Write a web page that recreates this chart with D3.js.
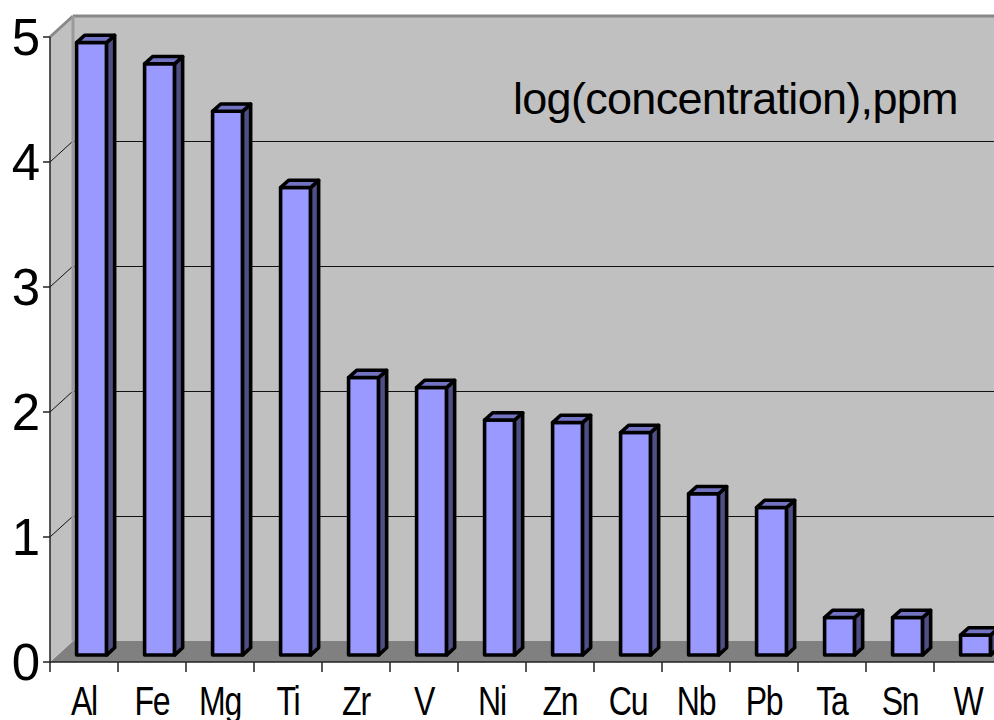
<!DOCTYPE html>
<html>
<head>
<meta charset="utf-8">
<script src="https://cdn.jsdelivr.net/npm/d3@7"></script>
<style>
  body { margin: 0; background: #fff; }
  svg { display: block; }
</style>
</head>
<body>
<div class="main-container"></div>
<script>
// elements and log10 concentration (ppm)
const categories = ["Al", "Fe", "Mg", "Ti", "Zr", "V", "Ni", "Zn", "Cu", "Nb", "Pb", "Ta", "Sn", "W"];
const values = [4.90, 4.73, 4.35, 3.74, 2.22, 2.14, 1.88, 1.86, 1.78, 1.29, 1.18, 0.30, 0.30, 0.16];
const yTicks = [0, 1, 2, 3, 4, 5];
const chartTitle = "log(concentration),ppm";

const width = 994, height = 720;
const left = 50, step = 68;
// 3d depth offset of the back wall
const DX = 23, DY = 21;
const barW = 30, d1 = 0.33, d2 = 0.68;

const svg = d3.select(".main-container")
  .append("svg")
  .attr("width", width)
  .attr("height", height);

const x = d3.scaleBand()
  .domain(categories)
  .range([left, left + step * categories.length])
  .padding(0);

const y = d3.scaleLinear()
  .domain([0, 5])
  .range([662, 37]);

const proj = (px, v, d) => [px + d * DX, y(v) - d * DY];
const right = x.range()[1];

// floor
svg.append("polygon")
  .attr("points", [proj(left, 0, 0), proj(right, 0, 0), proj(right, 0, 1), proj(left, 0, 1)].join(" "))
  .attr("fill", "#808080");

// back wall
svg.append("polygon")
  .attr("points", [proj(left, 0, 1), proj(right, 0, 1), proj(right, 5, 1), proj(left, 5, 1)].join(" "))
  .attr("fill", "#c0c0c0");

// left wall
svg.append("polygon")
  .attr("points", [proj(left, 0, 0), proj(left, 5, 0), proj(left, 5, 1), proj(left, 0, 1)].join(" "))
  .attr("fill", "#c0c0c0");

// gridlines, back wall + left wall
const grid = yTicks.filter(t => t > 0 && t < 5);
svg.selectAll(".grid-back")
  .data(grid)
  .join("line")
  .attr("x1", d => proj(left, d, 1)[0])
  .attr("x2", d => proj(right, d, 1)[0])
  .attr("y1", d => Math.round(proj(left, d, 1)[1]) + 0.5)
  .attr("y2", d => Math.round(proj(left, d, 1)[1]) + 0.5)
  .attr("stroke", "#111")
  .attr("stroke-width", 1);

svg.selectAll(".grid-side")
  .data(grid)
  .join("line")
  .attr("x1", d => proj(left, d, 0)[0])
  .attr("y1", d => proj(left, d, 0)[1])
  .attr("x2", d => proj(left, d, 1)[0])
  .attr("y2", d => proj(left, d, 1)[1])
  .attr("stroke", "#111")
  .attr("stroke-width", 1);

// wall edges
svg.append("line")
  .attr("x1", proj(left, 5, 1)[0]).attr("y1", proj(left, 5, 1)[1])
  .attr("x2", proj(right, 5, 1)[0]).attr("y2", proj(right, 5, 1)[1])
  .attr("stroke", "#888").attr("stroke-width", 3);
svg.append("line")
  .attr("x1", proj(left, 5, 0)[0]).attr("y1", proj(left, 5, 0)[1])
  .attr("x2", proj(left, 5, 1)[0]).attr("y2", proj(left, 5, 1)[1])
  .attr("stroke", "#888").attr("stroke-width", 3);
svg.append("line")
  .attr("x1", proj(left, 5, 1)[0]).attr("y1", proj(left, 5, 1)[1])
  .attr("x2", proj(left, 0, 1)[0]).attr("y2", proj(left, 0, 1)[1])
  .attr("stroke", "#9a9a9a").attr("stroke-width", 3);

// bars
const bars = svg.selectAll(".bar")
  .data(categories.map((c, i) => ({cat: c, value: values[i]})))
  .join("g")
  .attr("class", "bar")
  .attr("stroke", "#000")
  .attr("stroke-width", 3.6)
  .attr("stroke-linejoin", "round");

const bx = d => x(d.cat) + (x.bandwidth() - barW) / 2;

bars.append("polygon")
  .attr("fill", "#9999ff")
  .attr("points", d => [
    proj(bx(d), 0, d1), proj(bx(d) + barW, 0, d1),
    proj(bx(d) + barW, d.value, d1), proj(bx(d), d.value, d1)
  ].join(" "));

bars.append("polygon")
  .attr("fill", "#4f4f85")
  .attr("points", d => [
    proj(bx(d) + barW, 0, d1), proj(bx(d) + barW, 0, d2),
    proj(bx(d) + barW, d.value, d2), proj(bx(d) + barW, d.value, d1)
  ].join(" "));

bars.append("polygon")
  .attr("fill", "#7373c4")
  .attr("points", d => [
    proj(bx(d), d.value, d1), proj(bx(d) + barW, d.value, d1),
    proj(bx(d) + barW, d.value, d2), proj(bx(d), d.value, d2)
  ].join(" "));

// axes
const yAxis = svg.append("g");
yAxis.append("line")
  .attr("x1", left).attr("x2", left)
  .attr("y1", y(5)).attr("y2", y(0))
  .attr("stroke", "#222").attr("stroke-width", 1.5);
yAxis.selectAll(".tick")
  .data(yTicks)
  .join("line")
  .attr("x1", left - 7).attr("x2", left)
  .attr("y1", d => y(d)).attr("y2", d => y(d))
  .attr("stroke", "#222").attr("stroke-width", 1.5);
yAxis.selectAll(".lbl")
  .data(yTicks)
  .join("text")
  .attr("x", 40)
  .attr("y", d => y(d) + 18)
  .attr("text-anchor", "end")
  .attr("font-family", "Liberation Sans, Arial, sans-serif")
  .attr("font-size", 51)
  .attr("fill", "#000")
  .text(d => d);

const xAxis = svg.append("g");
xAxis.append("line")
  .attr("x1", left).attr("x2", right)
  .attr("y1", y(0)).attr("y2", y(0))
  .attr("stroke", "#222").attr("stroke-width", 1.5);
xAxis.selectAll(".tick")
  .data(categories)
  .join("line")
  .attr("x1", d => x(d)).attr("x2", d => x(d))
  .attr("y1", y(0)).attr("y2", y(0) + 10)
  .attr("stroke", "#222").attr("stroke-width", 1.5);
xAxis.selectAll(".lbl")
  .data(categories)
  .join("text")
  .attr("transform", d => `translate(${x(d) + x.bandwidth() / 2},715) scale(0.8,1)`)
  .attr("text-anchor", "middle")
  .attr("font-family", "Liberation Sans, Arial, sans-serif")
  .attr("font-size", 40)
  .attr("letter-spacing", -1.5)
  .attr("fill", "#000")
  .text(d => d);

// series label
svg.append("text")
  .attr("x", 513)
  .attr("y", 114)
  .attr("font-family", "Liberation Sans, Arial, sans-serif")
  .attr("font-size", 45)
  .attr("letter-spacing", -0.7)
  .attr("fill", "#000")
  .text(chartTitle);
</script>
</body>
</html>
